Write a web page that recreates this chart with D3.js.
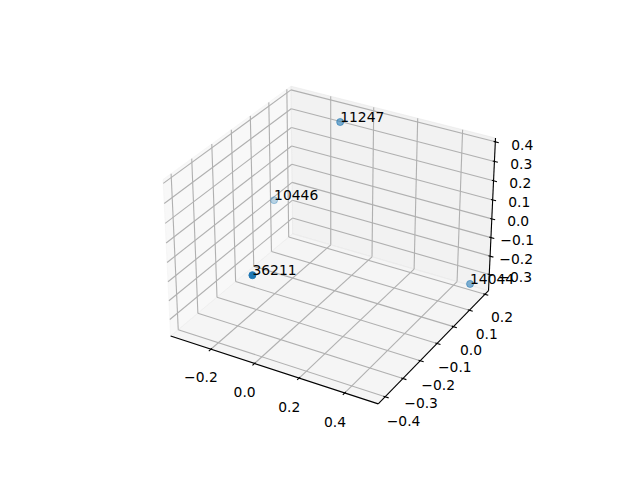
<!DOCTYPE html>
<html><head><meta charset="utf-8"><script src="https://cdn.jsdelivr.net/npm/d3@7"></script>
<style>html,body{margin:0;background:#fff}svg{display:block}</style></head><body><svg id="c" width="640" height="480"></svg><script>
const labels=["36211","10446","11247","14044"];
const xs=[-0.012,-0.365,-0.069,0.525];
const ys=[-0.425,0.093,0.116,0.125];
const zs=[0.054,-0.09,0.398,-0.274];
const xLim=[-0.37,0.525], yLim=[-0.425,0.21], zLim=[-0.373,0.403];
const xTicks=[-0.2,0,0.2,0.4], yTicks=[-0.4,-0.3,-0.2,-0.1,0,0.1,0.2], zTicks=[-0.3,-0.2,-0.1,0,0.1,0.2,0.3,0.4];
const px=d3.scaleLinear().domain([-0.095,0.09]).range([142.7,512.3]);
const py=d3.scaleLinear().domain([-0.095,0.09]).range([427.2,57.6]);
const asp=[4,4,3],n=Math.hypot(...asp),ba=asp.map(a=>a*1.8294640721620434/n);
const el=30*Math.PI/180,az=-60*Math.PI/180,dist=10;
const R=ba.map(b=>b/2);
const E=[R[0]+dist*Math.cos(el)*Math.cos(az),R[1]+dist*Math.cos(el)*Math.sin(az),R[2]+dist*Math.sin(el)];
const cross=(a,b)=>[a[1]*b[2]-a[2]*b[1],a[2]*b[0]-a[0]*b[2],a[0]*b[1]-a[1]*b[0]];
const norm=a=>{const h=Math.hypot(...a);return a.map(v=>v/h)};
const dot=(a,b)=>a[0]*b[0]+a[1]*b[1]+a[2]*b[2];
const w=norm(E.map((e,i)=>e-R[i])),u=norm(cross([0,0,1],w)),v=cross(w,u);
const wx=d3.scaleLinear().domain(xLim).range([0,ba[0]]),wy=d3.scaleLinear().domain(yLim).range([0,ba[1]]),wz=d3.scaleLinear().domain(zLim).range([0,ba[2]]);
function proj(p){const q=[wx(p[0])-E[0],wy(p[1])-E[1],wz(p[2])-E[2]];const a=dot(u,q),b=dot(v,q),c=dot(w,q);return {X:a/(-c),Y:b/(-c),d:-c}}
function P(p){const r=proj(p);return [px(r.X),py(r.Y),r.d]}
const d=[xLim,yLim,zLim].map(l=>(l[1]-l[0])/12);
const lo=[xLim[0]-d[0]/4,yLim[0]-d[1]/4,zLim[0]-d[2]/4],hi=[xLim[1]+d[0]/4,yLim[1]+d[1]/4,zLim[1]+d[2]/4];
const svg=d3.select("#c");
const LW=1.11;
const line=(a,b,c,wd)=>svg.append("line").attr("x1",P(a)[0]).attr("y1",P(a)[1]).attr("x2",P(b)[0]).attr("y2",P(b)[1]).attr("stroke",c).attr("stroke-width",wd);
const poly=(pts,f)=>svg.append("polygon").attr("points",pts.map(p=>P(p).slice(0,2).join(",")).join(" ")).attr("fill",f).attr("fill-opacity",.5).attr("stroke",f).attr("stroke-opacity",.5);
poly([[lo[0],lo[1],lo[2]],[lo[0],hi[1],lo[2]],[lo[0],hi[1],hi[2]],[lo[0],lo[1],hi[2]]],"rgb(242,242,242)");
poly([[lo[0],hi[1],lo[2]],[hi[0],hi[1],lo[2]],[hi[0],hi[1],hi[2]],[lo[0],hi[1],hi[2]]],"rgb(230,230,230)");
poly([[lo[0],lo[1],lo[2]],[hi[0],lo[1],lo[2]],[hi[0],hi[1],lo[2]],[lo[0],hi[1],lo[2]]],"rgb(236,236,236)");
const G="#b0b0b0",FONT="DejaVu Sans";
xTicks.forEach(t=>{line([t,lo[1],lo[2]],[t,hi[1],lo[2]],G,LW);line([t,hi[1],lo[2]],[t,hi[1],hi[2]],G,LW)});
yTicks.forEach(t=>{line([hi[0],t,lo[2]],[lo[0],t,lo[2]],G,LW);line([lo[0],t,lo[2]],[lo[0],t,hi[2]],G,LW)});
zTicks.forEach(t=>{line([hi[0],hi[1],t],[lo[0],hi[1],t],G,LW);line([lo[0],hi[1],t],[lo[0],lo[1],t],G,LW)});
line([lo[0],lo[1],lo[2]],[hi[0],lo[1],lo[2]],"#000",LW);
line([hi[0],lo[1],lo[2]],[hi[0],hi[1],lo[2]],"#000",LW);
line([hi[0],hi[1],lo[2]],[hi[0],hi[1],hi[2]],"#000",LW);
const lab=0.0902*11.5;
const fmt=t=>d3.format(".1f")(t).replace("-","\u2212");
function lbl(p,t){const q=P(p);svg.append("text").attr("x",q[0]+0.5).attr("y",q[1]).attr("dy",11).attr("text-anchor","middle").attr("font-family",FONT).attr("font-size",13.89).text(fmt(t))}
xTicks.forEach(t=>{line([t,lo[1]+.1*d[1],lo[2]],[t,lo[1]-.2*d[1],lo[2]],"#000",LW);lbl([t,lo[1]-lab*d[1],lo[2]-lab*d[2]],t)});
yTicks.forEach(t=>{line([hi[0]-.1*d[0],t,lo[2]],[hi[0]+.2*d[0],t,lo[2]],"#000",LW);lbl([hi[0]+lab*d[0],t,lo[2]-lab*d[2]],t)});
zTicks.forEach(t=>{line([hi[0]-.1*d[0],hi[1],t],[hi[0]+.2*d[0],hi[1],t],"#000",LW);lbl([hi[0]+lab*d[0],hi[1]+lab*d[1],t],t)});
const pts=labels.map((l,i)=>{const q=P([xs[i],ys[i],zs[i]]);return {l,x:q[0],y:q[1],d:q[2]}});
const alpha=d3.scaleLinear().domain(d3.extent(pts,p=>p.d)).range([1,0.3]);
svg.selectAll("circle").data(pts.slice().sort((a,b)=>b.d-a.d)).join("circle").attr("cx",p=>p.x).attr("cy",p=>p.y).attr("r",3.5).attr("fill","#1f77b4").attr("fill-opacity",p=>alpha(p.d)).attr("stroke","#1f77b4").attr("stroke-width",1).attr("stroke-opacity",p=>alpha(p.d));
svg.selectAll("text.pt").data(pts).join("text").attr("class","pt").attr("x",p=>p.x).attr("y",p=>p.y).attr("font-family",FONT).attr("font-size",13.89).text(p=>p.l);
</script></body></html>
